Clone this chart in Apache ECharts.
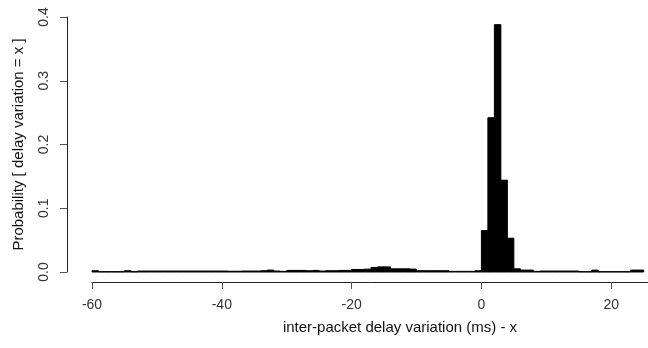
<!DOCTYPE html>
<html>
<head>
<meta charset="utf-8">
<script src="https://cdn.jsdelivr.net/npm/echarts@6/dist/echarts.min.js"></script>
<style>html,body{margin:0;padding:0;background:#fff;}#c{width:648px;height:348px;}</style>
</head>
<body>
<div id="c"></div>
<script>
// Bin left edges (ms), each bin is 1 ms wide
const binStarts = [
  -60,-59,-58,-57,-56,-55,-54,-53,-52,-51,-50,-49,-48,-47,-46,-45,-44,-43,-42,-41,
  -40,-39,-38,-37,-36,-35,-34,-33,-32,-31,-30,-29,-28,-27,-26,-25,-24,-23,-22,-21,
  -20,-19,-18,-17,-16,-15,-14,-13,-12,-11,-10,-9,-8,-7,-6,-5,-4,-3,-2,-1,
  0,1,2,3,4,5,6,7,8,9,10,11,12,13,14,15,16,17,18,19,20,21,22,23,24
];
// Probability of each bin
const probs = [
  0.002,0.0005,0.0005,0.0005,0.0005,0.002,0.0005,0.0015,0.0015,0.0015,0.0015,0.0015,0.0015,0.0015,0.0015,0.0015,0.0015,0.0015,0.0015,0.0015,
  0.0015,0.0012,0.0012,0.0015,0.0015,0.0015,0.002,0.003,0.0015,0.001,0.0025,0.0025,0.0025,0.002,0.0025,0.0015,0.002,0.002,0.0025,0.0025,
  0.004,0.004,0.0045,0.007,0.008,0.008,0.005,0.005,0.005,0.0045,0.002,0.002,0.002,0.002,0.002,0.001,0.001,0.001,0.001,0.002,
  0.065,0.242,0.388,0.144,0.053,0.005,0.003,0.003,0.001,0.0015,0.0015,0.0015,0.0015,0.0015,0.0015,0.0005,0.0005,0.003,0.0005,0.0005,0.0005,0.0005,0.0005,0.003,0.003
];
const binWidth = 1;
const xTicks = [-60, -40, -20, 0, 20, 40];
const yTicks = [0, 0.1, 0.2, 0.3, 0.4];
const xTitle = 'inter-packet delay variation (ms) - x';
const yTitle = 'Probability [ delay variation = x ]';

const data = binStarts.map((x, i) => [x, probs[i]]);
const font = '"Liberation Sans", Arial, sans-serif';

const chart = echarts.init(document.getElementById('c'), null, {renderer: 'canvas'});
chart.setOption({
  animation: false,
  backgroundColor: '#fff',
  grid: {left: 92, top: 17, width: 649, height: 255, containLabel: false, outerBoundsMode: 'none'},
  graphic: [{
    type: 'text', x: 400, y: 328, silent: true,
    style: {text: xTitle, font: '15px ' + font, fill: '#111', align: 'center', verticalAlign: 'middle'}
  }],
  xAxis: {
    type: 'value',
    min: xTicks[0], max: xTicks[xTicks.length - 1], interval: 20,
    offset: 10,
    axisLine: {show: true, onZero: false, lineStyle: {color: '#222', width: 1}},
    axisTick: {show: true, length: 7, lineStyle: {color: '#555'}},
    axisLabel: {margin: 16, fontFamily: font, fontSize: 14, color: '#333'},
    splitLine: {show: false}
  },
  yAxis: {
    type: 'value',
    min: yTicks[0], max: yTicks[yTicks.length - 1], interval: 0.1,
    offset: 25,
    name: yTitle, nameLocation: 'middle', nameGap: 41,
    nameTextStyle: {fontFamily: font, fontSize: 15, color: '#111'},
    axisLine: {show: true, onZero: false, lineStyle: {color: '#222', width: 1}},
    axisTick: {show: true, length: 7, lineStyle: {color: '#555'}},
    axisLabel: {margin: 16, rotate: 90, fontFamily: font, fontSize: 14, color: '#333',
      formatter: v => v.toFixed(1)},
    splitLine: {show: false}
  },
  series: [{
    type: 'custom',
    clip: false,
    data: data,
    renderItem: function (params, api) {
      const x0 = api.value(0), y = api.value(1);
      const p0 = api.coord([x0, 0]);
      const p1 = api.coord([x0 + binWidth, y]);
      return {
        type: 'rect',
        shape: {x: p0[0], y: p1[1], width: p1[0] - p0[0], height: p0[1] - p1[1]},
        style: {fill: '#000', stroke: '#000', lineWidth: 1}
      };
    }
  }]
});
</script>
</body>
</html>
